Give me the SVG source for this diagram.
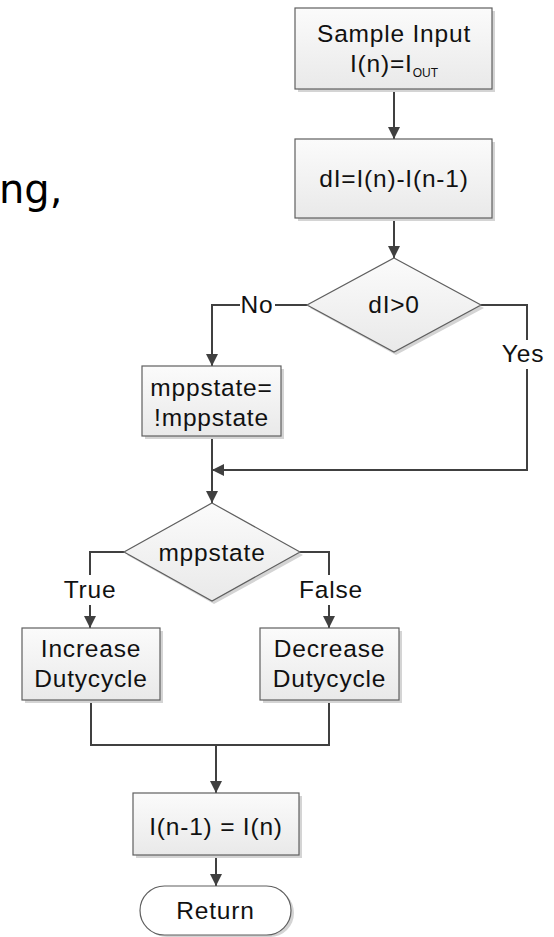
<svg xmlns="http://www.w3.org/2000/svg" width="554" height="937" viewBox="0 0 554 937">
  <defs>
    <linearGradient id="fillGrad" x1="0" y1="0" x2="0" y2="1">
      <stop offset="0" stop-color="#fbfbfb"/>
      <stop offset="1" stop-color="#e9e9e9"/>
    </linearGradient>
    <marker id="arrow" markerUnits="userSpaceOnUse" markerWidth="12" markerHeight="12" viewBox="0 0 12 12" refX="12" refY="6" orient="auto">
      <path d="M0,0 L12,6 L0,12 Z" fill="#404040"/>
    </marker>
  </defs>
  <style>
    .shape { fill: url(#fillGrad); stroke: #5f5f5f; stroke-width: 1.2; }
    .shadow { fill: #d4d4d4; }
    .wire { fill: none; stroke: #404040; stroke-width: 2; }
    .txt { font-family: "Liberation Sans", Arial, sans-serif; font-size: 24.5px; fill: #111; text-anchor: middle; letter-spacing: 0.8px; }
    .lbl-bg { fill: #ffffff; }
    .big { font-family: "DejaVu Sans", sans-serif; font-size: 40px; fill: #000; }
  </style>

  <rect width="554" height="937" fill="#ffffff"/>

  <!-- fragment of surrounding slide text -->
  <text class="big" x="-1" y="203">ng,</text>

  <!-- connectors -->
  <g id="connectors">
    <line class="wire" x1="394" y1="89" x2="394" y2="139" marker-end="url(#arrow)"/>
    <line class="wire" x1="394" y1="218" x2="394" y2="258" marker-end="url(#arrow)"/>
    <path class="wire" d="M307,305 H212 V366" marker-end="url(#arrow)"/>
    <path class="wire" d="M481,305 H527 V470 H212" marker-end="url(#arrow)"/>
    <line class="wire" x1="212" y1="436" x2="212" y2="503" marker-end="url(#arrow)"/>
    <path class="wire" d="M124,552 H90 V628" marker-end="url(#arrow)"/>
    <path class="wire" d="M300,552 H329 V628" marker-end="url(#arrow)"/>
    <path class="wire" d="M91,700 V745 H329 V700"/>
    <line class="wire" x1="216" y1="745" x2="216" y2="793" marker-end="url(#arrow)"/>
    <line class="wire" x1="216" y1="855" x2="216" y2="886" marker-end="url(#arrow)"/>
    <!-- branch labels -->
    <rect class="lbl-bg" x="240" y="292" width="35" height="26"/>
    <text class="txt" x="257" y="313">No</text>
    <rect class="lbl-bg" x="500" y="340" width="46" height="29"/>
    <text class="txt" x="523" y="362">Yes</text>
    <rect class="lbl-bg" x="62" y="575" width="56" height="30"/>
    <text class="txt" x="90" y="598">True</text>
    <rect class="lbl-bg" x="302" y="575" width="58" height="30"/>
    <text class="txt" x="331" y="598">False</text>
  </g>

  <g id="sample-input">
    <rect class="shadow" x="298" y="11" width="197" height="81"/>
    <rect class="shape" x="295" y="8" width="197" height="81"/>
    <text class="txt" x="394" y="42">Sample Input</text>
    <text class="txt" x="394" y="72">I(n)=I<tspan font-size="12" dy="5" letter-spacing="0">OUT</tspan></text>
  </g>

  <g id="delta-current">
    <rect class="shadow" x="298" y="142" width="197" height="79"/>
    <rect class="shape" x="295" y="139" width="197" height="79"/>
    <text class="txt" x="394" y="187">dI=I(n)-I(n-1)</text>
  </g>

  <g id="check-delta">
    <polygon class="shadow" points="396,261 484,308 396,355 310,308"/>
    <polygon class="shape" points="394,258 481,305 394,352 307,305"/>
    <text class="txt" x="394" y="313">dI&gt;0</text>
  </g>

  <g id="toggle-state">
    <rect class="shadow" x="145" y="369" width="139" height="70"/>
    <rect class="shape" x="142" y="366" width="139" height="70"/>
    <text class="txt" x="211.5" y="396">mppstate=</text>
    <text class="txt" x="211.5" y="426">!mppstate</text>
  </g>

  <g id="check-state">
    <polygon class="shadow" points="214,506 303,555 214,604 127,555"/>
    <polygon class="shape" points="212,503 300,552 212,601 124,552"/>
    <text class="txt" x="212" y="561">mppstate</text>
  </g>

  <g id="increase-duty">
    <rect class="shadow" x="25" y="631" width="138" height="72"/>
    <rect class="shape" x="22" y="628" width="138" height="72"/>
    <text class="txt" x="91" y="657">Increase</text>
    <text class="txt" x="91" y="687">Dutycycle</text>
  </g>

  <g id="decrease-duty">
    <rect class="shadow" x="263" y="631" width="139" height="72"/>
    <rect class="shape" x="260" y="628" width="139" height="72"/>
    <text class="txt" x="329.5" y="657">Decrease</text>
    <text class="txt" x="329.5" y="687">Dutycycle</text>
  </g>

  <g id="store-current">
    <rect class="shadow" x="136" y="796" width="166" height="62"/>
    <rect class="shape" x="133" y="793" width="166" height="62"/>
    <text class="txt" x="216" y="835">I(n-1) = I(n)</text>
  </g>

  <g id="return">
    <rect class="shadow" x="143" y="889" width="151" height="48" rx="24"/>
    <rect class="shape" x="140" y="886" width="151" height="49" rx="24.5" style="fill:#ffffff"/>
    <text class="txt" x="215.5" y="919">Return</text>
  </g>
</svg>
